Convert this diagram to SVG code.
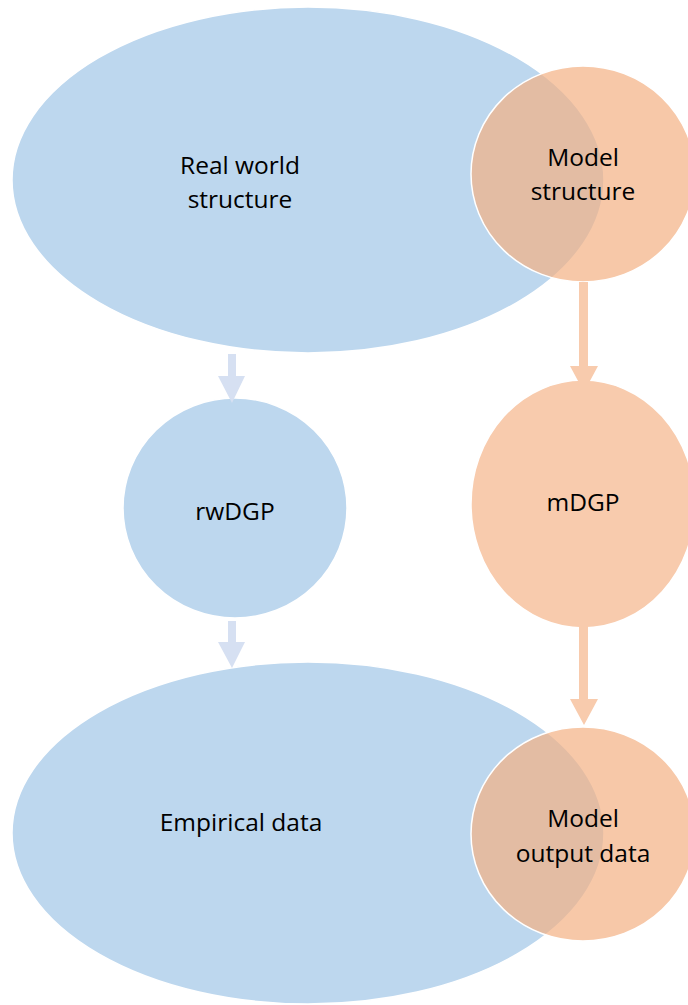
<svg xmlns="http://www.w3.org/2000/svg" width="688" height="1005" viewBox="0 0 688 1005">
<style>
.blue{fill:#bdd7ee;stroke:#ffffff;stroke-width:1.5}
.orange{fill:#f4b183;fill-opacity:0.7;stroke:#ffffff;stroke-width:1.5}
.orangeSolid{fill:#f8cbad;stroke:#ffffff;stroke-width:1.5}
.t{font-family:"Open Sans","Liberation Sans",sans-serif;font-size:24.5px;fill:#000;text-anchor:middle}
.ab{fill:#d6e0f2}
.ao{fill:#f8cbad}
</style>
<g id="real-world-structure">
<ellipse class="blue" cx="308" cy="180" rx="296" ry="173"/>
<text class="t" x="240" y="174">Real world</text>
<text class="t" x="240" y="208">structure</text>
</g>
<g id="model-structure">
<ellipse class="orange" cx="583" cy="174" rx="112" ry="108"/>
<text class="t" x="583" y="166">Model</text>
<text class="t" x="583" y="200">structure</text>
</g>
<g id="rwDGP">
<ellipse class="blue" cx="235" cy="508" rx="112" ry="110"/>
<text class="t" x="235" y="520">rwDGP</text>
</g>
<g id="mDGP">
<ellipse class="orangeSolid" cx="583" cy="504" rx="112" ry="124"/>
<text class="t" x="583" y="511">mDGP</text>
</g>
<g id="empirical-data">
<ellipse class="blue" cx="308" cy="833" rx="296" ry="171"/>
<text class="t" x="241" y="831">Empirical data</text>
</g>
<g id="model-output-data">
<ellipse class="orange" cx="583" cy="834" rx="112" ry="107"/>
<text class="t" x="583" y="827">Model</text>
<text class="t" x="583" y="862">output data</text>
</g>
<g id="connectors">
<polygon class="ab" points="228,354 236,354 236,376 245,376 232,403 218,376 228,376"/>
<polygon class="ab" points="228,621 236,621 236,642 245,642 232,668 218,642 228,642"/>
<polygon class="ao" points="579,282 588,282 588,366 598,366 584,392 570,366 579,366"/>
<polygon class="ao" points="579,610 588,610 588,699 598,699 584,725 570,699 579,699"/>
</g>
</svg>
